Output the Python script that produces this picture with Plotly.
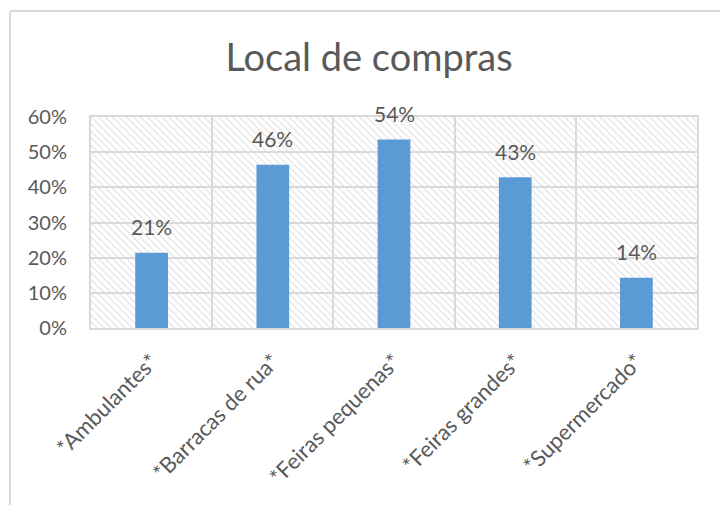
import plotly.graph_objects as go

categories = ["*Ambulantes*", "*Barracas de rua*", "*Feiras pequenas*", "*Feiras grandes*", "*Supermercado*"]
values = [0.214, 0.464, 0.536, 0.429, 0.143]
y_ticks = [0, 0.1, 0.2, 0.3, 0.4, 0.5, 0.6]
title_text = "Local de compras"

FONT = "Lato"
TXT = "#595959"
GRID = "#d9d9d9"
BAR = "#5b9bd5"

W, H = 720, 505
ML, MR, MT, MB = 91, 23, 117, 177
pw, ph = W - ML - MR, H - MT - MB

xs = list(range(len(categories)))

fig = go.Figure()

# hatched plot-area background
fig.add_trace(go.Bar(
    x=[(len(categories) - 1) / 2], y=[max(y_ticks)], width=[len(categories)],
    marker=dict(color="rgba(0,0,0,0)", line=dict(width=0),
                pattern=dict(shape="\\", fgcolor="#dadada", bgcolor="rgba(0,0,0,0)",
                             size=5, solidity=0.18, fillmode="replace")),
    hoverinfo="skip", showlegend=False))

fig.add_trace(go.Bar(
    x=xs, y=values, width=0.27,
    marker=dict(color=BAR, line=dict(width=0)),
    showlegend=False))

for xv, v in zip(xs, values):
    fig.add_annotation(x=xv, y=v, text=f"{round(v*100):.0f}%", showarrow=False,
                       yanchor="middle", yshift=26,
                       font=dict(family=FONT, size=21, color=TXT))

# chart outer border (top and left visible)
x_left = (10 - ML) / pw
y_top = (H - MB - 11) / ph
fig.add_shape(type="line", xref="paper", yref="paper", x0=x_left, x1=(W - ML) / pw + 0.01,
              y0=y_top, y1=y_top, line=dict(color=GRID, width=2))
fig.add_shape(type="line", xref="paper", yref="paper", x0=x_left, x1=x_left,
              y0=y_top, y1=-(MB + 5) / ph, line=dict(color=GRID, width=2))

fig.update_layout(
    width=W, height=H,
    margin=dict(l=ML, r=MR, t=MT, b=MB),
    paper_bgcolor="white", plot_bgcolor="white",
    barmode="overlay",
    title=dict(text=title_text, x=369 / W, xanchor="center", y=1 - 58 / H, yanchor="middle",
               font=dict(family=FONT, size=38, color=TXT)),
    font=dict(family=FONT, color=TXT),
    xaxis=dict(range=[-0.5, len(categories) - 0.5], tickmode="array", tickvals=xs, ticktext=categories,
               tickangle=-45, tickfont=dict(family=FONT, size=22, color=TXT),
               showgrid=False, showline=True, linecolor=GRID, linewidth=2, mirror=True,
               ticks="", ticklabelstandoff=10,
               minor=dict(tick0=-0.5, dtick=1, showgrid=True, gridcolor=GRID, gridwidth=2, ticks=""),
               fixedrange=True, zeroline=False),
    yaxis=dict(range=[0, max(y_ticks)], tickmode="array", tickvals=y_ticks,
               ticktext=[f"{round(t*100)}%" for t in y_ticks],
               tickfont=dict(family=FONT, size=20, color=TXT),
               showgrid=True, gridcolor=GRID, gridwidth=2,
               showline=True, linecolor=GRID, linewidth=2, mirror=True,
               ticks="", ticklabelstandoff=18, zeroline=False, fixedrange=True),
)

fig.write_html("out.html")
